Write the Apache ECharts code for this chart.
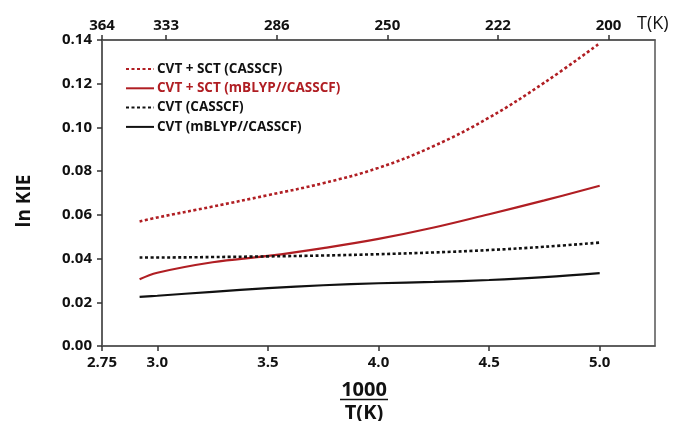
<!DOCTYPE html>
<html>
<head>
<meta charset="utf-8">
<script src="https://cdn.jsdelivr.net/npm/echarts@6/dist/echarts.min.js"></script>
<style>
    html,body{margin:0;padding:0;background:#fff;}
    #main{width:675px;height:421px;}
</style>
</head>
<body>
<div id="main"></div>
<script>
// 1000/T values shared by all curves
var invT=[2.92,3.0,3.25,3.5,3.75,4.0,4.25,4.5,4.75,5.0];
var sctCasscf=[0.057,0.0588,0.0638,0.069,0.0745,0.0815,0.0915,0.1045,0.1205,0.1385];
var sctMblyp=[0.0305,0.0335,0.0383,0.0412,0.0448,0.049,0.0542,0.0603,0.0666,0.0733];
var cvtCasscf=[0.0405,0.0405,0.0407,0.041,0.0414,0.042,0.0428,0.0439,0.0454,0.0473];
var cvtMblyp=[0.0225,0.023,0.0248,0.0265,0.0278,0.0287,0.0293,0.0302,0.0315,0.0333];

var seriesNames=['CVT + SCT (CASSCF)','CVT + SCT (mBLYP//CASSCF)','CVT (CASSCF)','CVT (mBLYP//CASSCF)'];

var bottomTicks=[2.75,3.0,3.5,4.0,4.5,5.0];
var bottomTickLabels=['2.75','3.0','3.5','4.0','4.5','5.0'];
var topTicks=[2.71,3.0,3.5,4.0,4.5,5.0];
var topTickLabels=['364','333','286','250','222','200'];

var red='#b01e23';
var black='#111111';
var axisColor='#555555';
var font='"Open Sans", sans-serif';

function pairs(ys) {
    var out=[];
    for (var i=0;i<invT.length;i++) {
        out.push([invT[i],ys[i]]);
    }
    return out;
}

function labelFor(ticks,labels) {
    return function (v) {
        for (var i=0;i<ticks.length;i++) {
            if (Math.abs(ticks[i]-v)<1e-6) return labels[i];
        }
        return '';
    };
}

function drawChart() {
    var myChart=echarts.init(document.getElementById('main'),null,{renderer:'canvas'});
    var tickLabelStyle={color:'#111',fontFamily:font,fontWeight:'bold',fontSize:15};
    var option={
        backgroundColor:'#fff',
        animation:false,
        grid:{
            left:102,right:20,top:40,bottom:75,
            show:true,borderColor:axisColor,borderWidth:1.5,backgroundColor:'transparent'
        },
        legend:{
            orient:'vertical',
            left:125,top:62,padding:0,
            itemWidth:28,itemHeight:14,itemGap:5.3,
            itemStyle:{opacity:0},
            textStyle:{fontFamily:font,fontWeight:'bold',fontSize:13.5,color:black,padding:[0,0,0,-2]},
            data:[
                {name:seriesNames[0],textStyle:{color:black}},
                {name:seriesNames[1],textStyle:{color:red}},
                {name:seriesNames[2],textStyle:{color:black}},
                {name:seriesNames[3],textStyle:{color:black}}
            ]
        },
        xAxis:[{
            type:'value',
            position:'bottom',
            min:2.75,max:5.25,
            splitLine:{show:false},
            axisLine:{show:true,lineStyle:{color:axisColor,width:1.5}},
            axisTick:{show:true,length:5,customValues:bottomTicks,lineStyle:{color:'#333',width:1.5}},
            axisLabel:Object.assign({margin:9,customValues:bottomTicks,formatter:labelFor(bottomTicks,bottomTickLabels)},tickLabelStyle)
        },{
            type:'value',
            position:'top',
            min:2.71,max:5.21,
            splitLine:{show:false},
            axisLine:{show:true,lineStyle:{color:axisColor,width:1.5}},
            axisTick:{show:true,length:5,customValues:topTicks,lineStyle:{color:'#333',width:1.5}},
            axisLabel:Object.assign({margin:7,customValues:topTicks,formatter:labelFor(topTicks,topTickLabels)},tickLabelStyle)
        }],
        yAxis:{
            type:'value',
            min:0,max:0.14,interval:0.02,
            splitLine:{show:false},
            axisLine:{show:true,lineStyle:{color:axisColor,width:1.5}},
            axisTick:{show:true,length:5,lineStyle:{color:'#333',width:1.5}},
            axisLabel:Object.assign({margin:10,formatter:function (v) {return v.toFixed(2);}},tickLabelStyle)
        },
        graphic:[
            {type:'text',x:25,y:201,rotation:Math.PI/2,style:{text:'ln KIE',x:0,y:0,align:'center',verticalAlign:'middle',fontFamily:font,fontWeight:'bold',fontSize:19,fill:'#111'}},
            {type:'text',style:{text:'1000',x:364,y:390,align:'center',verticalAlign:'middle',fontFamily:font,fontWeight:'bold',fontSize:20,fill:'#111'}},
            {type:'line',shape:{x1:340,y1:399.5,x2:388,y2:399.5},style:{stroke:'#111',lineWidth:1.5}},
            {type:'text',style:{text:'T(K)',x:364,y:413,align:'center',verticalAlign:'middle',fontFamily:font,fontWeight:'bold',fontSize:20,fill:'#111'}},
            {type:'text',style:{text:'T(K)',x:637,y:24,align:'left',verticalAlign:'middle',fontFamily:font,fontSize:18,fill:'#111'}}
        ],
        series:[{
            name:seriesNames[0],
            type:'line',smooth:0.4,symbol:'none',
            lineStyle:{color:red,width:2.6,type:[3,2.5]},
            itemStyle:{color:red},
            data:pairs(sctCasscf)
        },{
            name:seriesNames[1],
            type:'line',smooth:0.4,symbol:'none',
            lineStyle:{color:red,width:2.2},
            itemStyle:{color:red},
            data:pairs(sctMblyp)
        },{
            name:seriesNames[2],
            type:'line',smooth:0.4,symbol:'none',
            lineStyle:{color:black,width:2.6,type:[3,2.5]},
            itemStyle:{color:black},
            data:pairs(cvtCasscf)
        },{
            name:seriesNames[3],
            type:'line',smooth:0.4,symbol:'none',
            lineStyle:{color:black,width:2.2},
            itemStyle:{color:black},
            data:pairs(cvtMblyp)
        }]
    };
    myChart.setOption(option);
}
drawChart();
</script>
</body>
</html>
